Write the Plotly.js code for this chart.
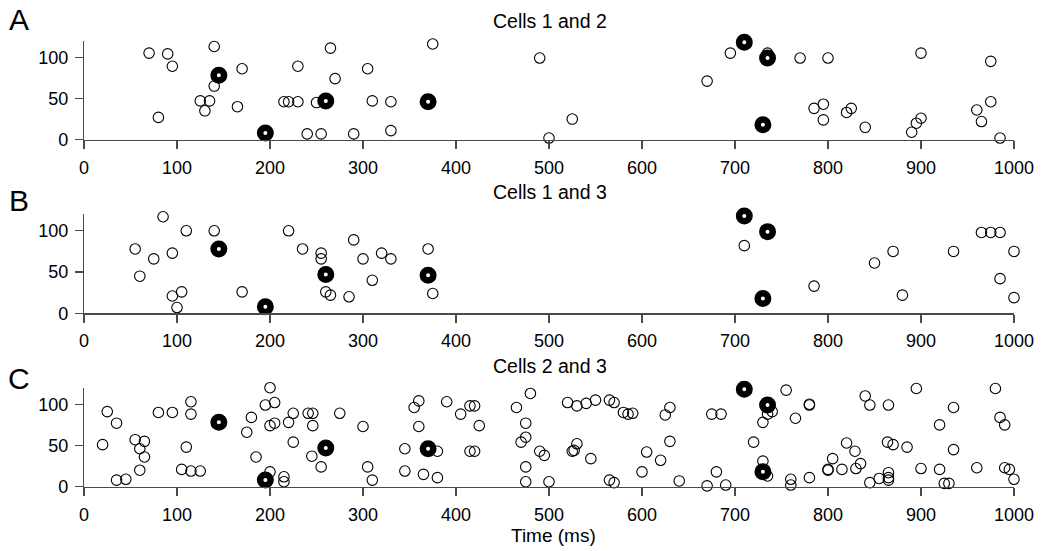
<!DOCTYPE html>
<html>
<head>
<meta charset="utf-8">
<script src="https://cdn.plot.ly/plotly-3.0.1.min.js"></script>
<style>html,body{margin:0;padding:0;background:#fff;}#chart{width:1050px;height:551px;}</style>
</head>
<body>
<div id="chart"></div>
<script>
// ---- data ----
const panelTitles = ["Cells 1 and 2", "Cells 1 and 3", "Cells 2 and 3"];
const panelLetters = ["A", "B", "C"];
const xTickVals = [0, 100, 200, 300, 400, 500, 600, 700, 800, 900, 1000];
const yTickVals = [0, 50, 100];
const xAxisTitle = "Time (ms)";

// shared pattern (bold rings), same in every panel
const patternTimes = [145, 195, 260, 370, 710, 730, 735];
const patternValues = [78, 8, 47, 46, 118, 18, 99];

// Panel A: cells 1 and 2
const pairA_times = [70, 90, 95, 80, 140, 140, 125, 135, 130, 170, 165, 215, 220, 230, 230, 250, 240, 255, 265, 270, 290, 305, 310, 330, 330, 375,
  490, 500, 525, 670, 695, 735, 770, 800, 785, 795, 795, 820, 825, 840, 890, 895, 900, 900, 960, 965, 975, 975, 985];
const pairA_values = [105, 104, 89, 27, 113, 65, 47, 47, 35, 86, 40, 46, 46, 46, 89, 45, 7, 7, 111, 74, 7, 86, 47, 46, 11, 116,
  99, 2, 25, 71, 105, 105, 99, 99, 38, 43, 24, 33, 38, 15, 9, 20, 26, 105, 36, 22, 46, 95, 2];

// Panel B: cells 1 and 3
const pairB_times = [55, 60, 75, 85, 95, 95, 100, 105, 110, 140, 170, 220, 235, 255, 255, 260, 265, 285, 290, 300, 310, 320, 330, 370, 375,
  710, 785, 850, 870, 880, 935, 965, 975, 985, 985, 1000, 1000];
const pairB_values = [78, 45, 66, 117, 73, 21, 7, 26, 100, 100, 26, 100, 78, 73, 66, 26, 22, 20, 89, 66, 40, 73, 66, 78, 24,
  82, 33, 61, 75, 22, 75, 98, 98, 98, 42, 75, 19];

// Panel C: cells 2 and 3
const pairC_times = [20, 25, 35, 35, 45, 55, 60, 65, 65, 60, 80, 95, 110, 105, 115, 115, 115, 125, 175, 180, 185, 195, 200, 205, 200, 205, 200, 215, 215, 220, 225, 225, 241, 246, 246, 245, 255, 275,
  300, 305, 310, 345, 345, 355, 360, 360, 365, 380, 380, 390, 405, 415, 420, 425, 415, 420, 465, 480, 475, 475, 470, 475, 475, 490, 495, 500, 520, 530, 525, 527, 530, 540, 550, 545, 565, 570, 580, 585, 590, 565, 570, 605, 600, 620, 625, 630, 630, 640,
  670, 675, 685, 680, 690, 720, 740, 735, 730, 730, 735, 755, 765, 760, 760, 780, 780, 780, 800, 800, 805, 815, 820, 829, 835, 830, 840, 845, 845, 855, 865, 864, 870, 865, 865, 865, 885, 895, 900, 920, 920, 925, 930, 935, 935, 960, 980, 985, 990, 990, 995, 1000];
const pairC_values = [51, 91, 77, 8, 9, 57, 46, 55, 36, 20, 90, 90, 48, 21, 103, 88, 19, 19, 66, 84, 36, 99, 120, 102, 74, 77, 18, 12, 6, 78, 89, 54, 89, 89, 74, 37, 24, 89,
  73, 24, 8, 46, 19, 96, 104, 73, 15, 43, 11, 103, 88, 98, 98, 74, 43, 43, 96, 113, 77, 60, 54, 24, 6, 43, 38, 6, 102, 98, 43, 44, 52, 101, 105, 34, 105, 102, 90, 88, 89, 8, 5, 42, 18, 32, 87, 96, 55, 7,
  1, 88, 88, 18, 2, 54, 91, 88, 78, 31, 13, 117, 83, 9, 2, 99, 100, 11, 21, 20, 34, 21, 53, 43, 28, 22, 110, 99, 5, 10, 99, 54, 51, 17, 11, 8, 48, 119, 22, 75, 21, 4, 4, 96, 45, 23, 119, 84, 75, 23, 21, 9];

// ---- layout helpers ----
const W = 1050, H = 551;
const px2x = p => p / W;
const py2y = p => 1 - p / H;
const xDomain = [px2x(84), px2x(1014)];
// [bottom px, top px] of each panel's plot area
const panelPx = [[139.7, 40.7], [313.3, 214.3], [486.7, 387.7]];
const titlePy = [21, 192, 366];
const letterPy = [19.5, 200.5, 378];

const axisColor = "#4a4a4a";
const fontFam = "Liberation Sans, Arial, Helvetica, sans-serif";

const pairTimes = [pairA_times, pairB_times, pairC_times];
const pairValues = [pairA_values, pairB_values, pairC_values];

const traces = [];
const layout = {
  width: W, height: H,
  margin: {l: 0, r: 0, t: 0, b: 0},
  paper_bgcolor: "#fff", plot_bgcolor: "#fff",
  showlegend: false,
  font: {family: fontFam, color: "#000", size: 18},
  annotations: []
};

for (let i = 0; i < 3; i++) {
  const sfx = i === 0 ? "" : String(i + 1);
  traces.push({
    type: "scatter", mode: "markers",
    x: pairTimes[i], y: pairValues[i],
    xaxis: "x" + sfx, yaxis: "y" + sfx,
    cliponaxis: false,
    marker: {symbol: "circle-open", size: 10.5, color: "#000", line: {width: 1.1, color: "#000"}},
    hoverinfo: "x+y"
  });
  traces.push({
    type: "scatter", mode: "markers",
    x: patternTimes, y: patternValues,
    xaxis: "x" + sfx, yaxis: "y" + sfx,
    cliponaxis: false,
    marker: {symbol: "circle", size: 10.5, color: "#fff", line: {width: 6.5, color: "#000"}},
    hoverinfo: "x+y"
  });
  const common = {
    showgrid: false, zeroline: false, showline: true,
    linecolor: axisColor, linewidth: 1.2,
    ticks: "outside", ticklen: 8, tickwidth: 1.2, tickcolor: axisColor,
    tickfont: {family: fontFam, size: 18, color: "#000"}
  };
  layout["xaxis" + sfx] = Object.assign({}, common, {
    domain: xDomain, range: [0, 1000], anchor: "y" + sfx,
    tickmode: "array", tickvals: xTickVals, ticktext: xTickVals.map(String),
    ticklabelstandoff: 3
  });
  layout["yaxis" + sfx] = Object.assign({}, common, {
    domain: [py2y(panelPx[i][0]), py2y(panelPx[i][1])], range: [0, 120], anchor: "x" + sfx,
    tickmode: "array", tickvals: yTickVals, ticktext: yTickVals.map(String),
    ticklabelstandoff: 3
  });
  layout.annotations.push({
    text: panelTitles[i], xref: "paper", yref: "paper",
    x: px2x(550), y: py2y(titlePy[i]), xanchor: "center", yanchor: "middle",
    showarrow: false, font: {family: fontFam, size: 19.5, color: "#000"}
  });
  layout.annotations.push({
    text: panelLetters[i], xref: "paper", yref: "paper",
    x: px2x(19), y: py2y(letterPy[i]), xanchor: "center", yanchor: "middle",
    showarrow: false, font: {family: fontFam, size: 30, color: "#000"}
  });
}
layout.annotations.push({
  text: xAxisTitle, xref: "paper", yref: "paper",
  x: px2x(553), y: py2y(535), xanchor: "center", yanchor: "middle",
  showarrow: false, font: {family: fontFam, size: 19, color: "#000"}
});

Plotly.newPlot("chart", traces, layout, {displayModeBar: false, staticPlot: true});
</script>
</body>
</html>
